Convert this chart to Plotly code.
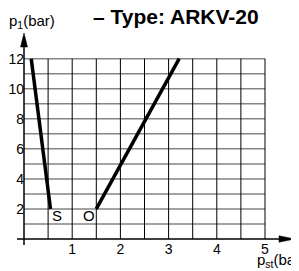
import numpy as np
import plotly.graph_objects as go

# Data
s_x = [0.55, 0.15]
s_y = [2, 12]
o_x = [1.5, 3.22]
o_y = [2, 12]
x_ticks = [1, 2, 3, 4, 5]
x_ticklabels = ["1", "2", "3", "4", "5"]
y_ticks = [2, 4, 6, 8, 10, 12]
y_ticklabels = ["2", "4", "6", "8", "10", "12"]
title_text = "– Type: ARKV-20"

# page has an 8px body margin; work in page pixels and shift
OFF = 8
W, H = 299 - OFF, 271 - OFF
X0PX, X5PX = 24 - OFF, 265 - OFF
Y0PX, Y12PX = 239 - OFF, 58.7 - OFF
pxx = (X5PX - X0PX) / 5.0
pxy = (Y0PX - Y12PX) / 12.0


def px(v):
    return (v - OFF) / W


def py(v):
    return 1 - (v - OFF) / H


xr = [-X0PX / pxx, (W - X0PX) / pxx]
yr = [-(H - Y0PX) / pxy, Y0PX / pxy]

FONT = "Liberation Sans, Arial, sans-serif"

fig = go.Figure()
fig.add_trace(go.Scatter(x=s_x, y=s_y, mode="lines",
                         line=dict(color="black", width=3.5), showlegend=False,
                         hoverinfo="skip"))
fig.add_trace(go.Scatter(x=o_x, y=o_y, mode="lines",
                         line=dict(color="black", width=3.5), showlegend=False,
                         hoverinfo="skip"))

shapes = []
# horizontal grid (gray)
for yv in range(1, 13):
    shapes.append(dict(type="line", xref="x", yref="y", x0=0, x1=5, y0=yv, y1=yv,
                       line=dict(color="#858585", width=1.5), layer="below"))
# vertical grid (black)
for xv in np.arange(0.5, 5.01, 0.5):
    shapes.append(dict(type="line", xref="x", yref="y", x0=xv, x1=xv, y0=0, y1=12,
                       line=dict(color="black", width=1), layer="below"))
# axes (page pixel targets converted into data units)
y_tip = (239 - 33) / pxy
y_base = (239 - 47) / pxy
x_tip = (295 - 24) / pxx
x_base = (279 - 24) / pxx
shapes.append(dict(type="line", xref="x", yref="y", x0=0, x1=0,
                   y0=-(245 - 239) / pxy, y1=y_base,
                   line=dict(color="black", width=1.5)))
shapes.append(dict(type="line", xref="x", yref="y", x0=-(24 - 17) / pxx, x1=x_base,
                   y0=0, y1=0, line=dict(color="black", width=1.5)))
hw = 3.5 / pxx
shapes.append(dict(type="path", xref="x", yref="y",
                   path=f"M {-hw} {y_base} L 0 {y_tip} L {hw} {y_base} Z",
                   fillcolor="black", line=dict(color="black", width=0.5)))
hh = 3.2 / pxy
shapes.append(dict(type="path", xref="x", yref="y",
                   path=f"M {x_base} {-hh} L {x_tip} 0 L {x_base} {hh} Z",
                   fillcolor="black", line=dict(color="black", width=0.5)))

annotations = [
    dict(text=f"<b>{title_text}</b>", xref="paper", yref="paper",
         x=px(176), y=py(16), xanchor="center", yanchor="middle",
         showarrow=False, font=dict(family=FONT, size=21, color="black")),
    dict(text="p<sub>1</sub>(bar)", xref="paper", yref="paper",
         x=px(7), y=py(21.5), xanchor="left", yanchor="middle",
         showarrow=False, font=dict(family=FONT, size=15, color="black")),
    dict(text="p<sub>st</sub>(bar)", xref="paper", yref="paper",
         x=px(255), y=py(260), xanchor="left", yanchor="middle",
         showarrow=False, font=dict(family=FONT, size=15, color="black")),
    dict(text="S", xref="x", yref="y", x=0.685, y=1.56, showarrow=False,
         font=dict(family=FONT, size=15, color="black")),
    dict(text="O", xref="x", yref="y", x=1.35, y=1.56, showarrow=False,
         font=dict(family=FONT, size=15, color="black")),
]

fig.update_layout(
    width=W, height=H, margin=dict(l=0, r=0, t=0, b=0),
    paper_bgcolor="white", plot_bgcolor="white", template="none",
    showlegend=False, shapes=shapes, annotations=annotations,
    xaxis=dict(range=xr, domain=[0, 1], anchor="free", position=(H - Y0PX) / H,
               showgrid=False, zeroline=False, showline=False, ticks="",
               tickvals=x_ticks, ticktext=x_ticklabels, automargin=False,
               tickfont=dict(family=FONT, size=14, color="black")),
    yaxis=dict(range=yr, domain=[0, 1], anchor="free", position=X0PX / W,
               showgrid=False, zeroline=False, showline=False, ticks="",
               tickvals=y_ticks, ticktext=y_ticklabels, automargin=False,
               tickfont=dict(family=FONT, size=14, color="black")),
)

fig.write_html("out.html")
